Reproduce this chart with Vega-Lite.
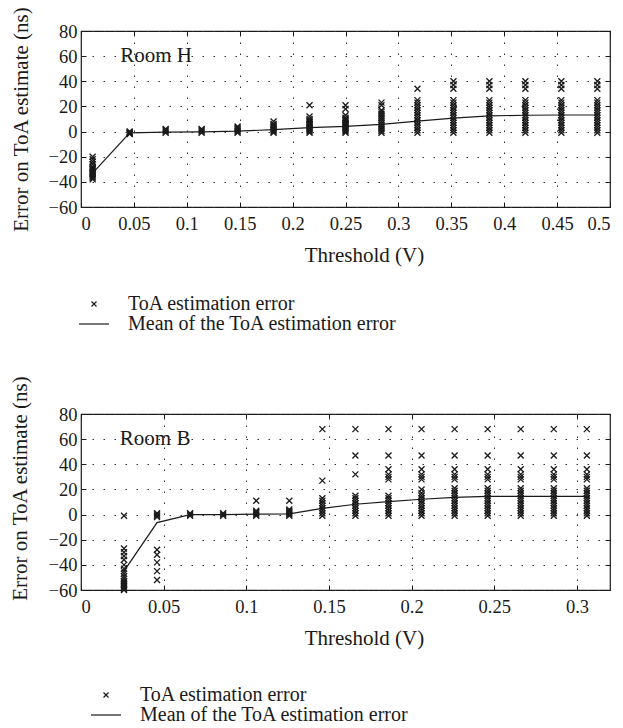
{
"$schema":"https://vega.github.io/schema/vega-lite/v6.json",
"background":"white",
"padding":{"top":5,"left":8,"right":0,"bottom":0},
"datasets":{
"hPts":[
{"t":0.011,"e":-20},{"t":0.011,"e":-22},{"t":0.011,"e":-24},{"t":0.011,"e":-26},{"t":0.011,"e":-28},{"t":0.011,"e":-29},{"t":0.011,"e":-30},{"t":0.011,"e":-31},{"t":0.011,"e":-32},{"t":0.011,"e":-33},{"t":0.011,"e":-34},{"t":0.011,"e":-35},{"t":0.011,"e":-36},{"t":0.011,"e":-37},{"t":0.011,"e":-38},
{"t":0.046,"e":-2},{"t":0.046,"e":-1.5},{"t":0.046,"e":-1},{"t":0.046,"e":-0.5},{"t":0.046,"e":0},
{"t":0.08,"e":-1},{"t":0.08,"e":0},{"t":0.08,"e":1},{"t":0.08,"e":2},
{"t":0.114,"e":-1},{"t":0.114,"e":0},{"t":0.114,"e":1},{"t":0.114,"e":2},
{"t":0.148,"e":-1},{"t":0.148,"e":0},{"t":0.148,"e":1},{"t":0.148,"e":2},{"t":0.148,"e":3},{"t":0.148,"e":4},
{"t":0.182,"e":-1},{"t":0.182,"e":0},{"t":0.182,"e":1},{"t":0.182,"e":2},{"t":0.182,"e":3},{"t":0.182,"e":4},{"t":0.182,"e":5},{"t":0.182,"e":6},{"t":0.182,"e":8},
{"t":0.216,"e":-1},{"t":0.216,"e":0},{"t":0.216,"e":1},{"t":0.216,"e":2},{"t":0.216,"e":3},{"t":0.216,"e":4},{"t":0.216,"e":5},{"t":0.216,"e":6},{"t":0.216,"e":7},{"t":0.216,"e":8},{"t":0.216,"e":9},{"t":0.216,"e":10},{"t":0.216,"e":12},{"t":0.216,"e":21},
{"t":0.25,"e":-1},{"t":0.25,"e":0},{"t":0.25,"e":1},{"t":0.25,"e":2},{"t":0.25,"e":3},{"t":0.25,"e":4},{"t":0.25,"e":5},{"t":0.25,"e":6},{"t":0.25,"e":7},{"t":0.25,"e":8},{"t":0.25,"e":9},{"t":0.25,"e":10},{"t":0.25,"e":11},{"t":0.25,"e":13},{"t":0.25,"e":18},{"t":0.25,"e":21},
{"t":0.284,"e":-1},{"t":0.284,"e":0.5},{"t":0.284,"e":2},{"t":0.284,"e":3.5},{"t":0.284,"e":5},{"t":0.284,"e":6.5},{"t":0.284,"e":8},{"t":0.284,"e":9.5},{"t":0.284,"e":11},{"t":0.284,"e":12.5},{"t":0.284,"e":14},{"t":0.284,"e":15.5},{"t":0.284,"e":17},{"t":0.284,"e":21},{"t":0.284,"e":23},
{"t":0.318,"e":-1},{"t":0.318,"e":1},{"t":0.318,"e":3},{"t":0.318,"e":5},{"t":0.318,"e":7},{"t":0.318,"e":9},{"t":0.318,"e":11},{"t":0.318,"e":13},{"t":0.318,"e":15},{"t":0.318,"e":17},{"t":0.318,"e":19},{"t":0.318,"e":21},{"t":0.318,"e":23},{"t":0.318,"e":25},{"t":0.318,"e":34},
{"t":0.352,"e":-1},{"t":0.352,"e":1},{"t":0.352,"e":3},{"t":0.352,"e":5},{"t":0.352,"e":7},{"t":0.352,"e":9},{"t":0.352,"e":11},{"t":0.352,"e":13},{"t":0.352,"e":15},{"t":0.352,"e":17},{"t":0.352,"e":19},{"t":0.352,"e":21},{"t":0.352,"e":23},{"t":0.352,"e":25},{"t":0.352,"e":34},{"t":0.352,"e":37},{"t":0.352,"e":40},
{"t":0.386,"e":-1},{"t":0.386,"e":1},{"t":0.386,"e":3},{"t":0.386,"e":5},{"t":0.386,"e":7},{"t":0.386,"e":9},{"t":0.386,"e":11},{"t":0.386,"e":13},{"t":0.386,"e":15},{"t":0.386,"e":17},{"t":0.386,"e":19},{"t":0.386,"e":21},{"t":0.386,"e":23},{"t":0.386,"e":25},{"t":0.386,"e":34},{"t":0.386,"e":37},{"t":0.386,"e":40},
{"t":0.42,"e":-1},{"t":0.42,"e":1},{"t":0.42,"e":3},{"t":0.42,"e":5},{"t":0.42,"e":7},{"t":0.42,"e":9},{"t":0.42,"e":11},{"t":0.42,"e":13},{"t":0.42,"e":15},{"t":0.42,"e":17},{"t":0.42,"e":19},{"t":0.42,"e":21},{"t":0.42,"e":23},{"t":0.42,"e":25},{"t":0.42,"e":34},{"t":0.42,"e":37},{"t":0.42,"e":40},
{"t":0.454,"e":-1},{"t":0.454,"e":1},{"t":0.454,"e":3},{"t":0.454,"e":5},{"t":0.454,"e":7},{"t":0.454,"e":9},{"t":0.454,"e":11},{"t":0.454,"e":13},{"t":0.454,"e":15},{"t":0.454,"e":17},{"t":0.454,"e":19},{"t":0.454,"e":21},{"t":0.454,"e":23},{"t":0.454,"e":25},{"t":0.454,"e":34},{"t":0.454,"e":37},{"t":0.454,"e":40},
{"t":0.488,"e":-1},{"t":0.488,"e":1},{"t":0.488,"e":3},{"t":0.488,"e":5},{"t":0.488,"e":7},{"t":0.488,"e":9},{"t":0.488,"e":11},{"t":0.488,"e":13},{"t":0.488,"e":15},{"t":0.488,"e":17},{"t":0.488,"e":19},{"t":0.488,"e":21},{"t":0.488,"e":23},{"t":0.488,"e":25},{"t":0.488,"e":34},{"t":0.488,"e":37},{"t":0.488,"e":40}
],
"hMean":[
{"t":0.011,"e":-33},{"t":0.046,"e":-1},{"t":0.08,"e":-0.5},{"t":0.114,"e":-0.2},{"t":0.148,"e":0.3},{"t":0.182,"e":1.5},{"t":0.216,"e":3.2},{"t":0.25,"e":4.1},{"t":0.284,"e":5.8},{"t":0.318,"e":8.3},{"t":0.352,"e":10.7},{"t":0.386,"e":12.5},{"t":0.42,"e":13},{"t":0.454,"e":13.2},{"t":0.488,"e":13.2}
],
"bPts":[
{"t":0.026,"e":-1},{"t":0.026,"e":-27},{"t":0.026,"e":-30},{"t":0.026,"e":-33},{"t":0.026,"e":-36},{"t":0.026,"e":-40},{"t":0.026,"e":-43},{"t":0.026,"e":-45},{"t":0.026,"e":-47},{"t":0.026,"e":-49},{"t":0.026,"e":-51},{"t":0.026,"e":-53},{"t":0.026,"e":-54},{"t":0.026,"e":-55},{"t":0.026,"e":-56},{"t":0.026,"e":-57},{"t":0.026,"e":-58},{"t":0.026,"e":-59},{"t":0.026,"e":-60},
{"t":0.046,"e":-2},{"t":0.046,"e":-1},{"t":0.046,"e":0},{"t":0.046,"e":1},{"t":0.046,"e":-28},{"t":0.046,"e":-32},{"t":0.046,"e":-38},{"t":0.046,"e":-45},{"t":0.046,"e":-52},
{"t":0.066,"e":-1},{"t":0.066,"e":0},{"t":0.066,"e":1},
{"t":0.086,"e":-1},{"t":0.086,"e":0},{"t":0.086,"e":1},
{"t":0.106,"e":-1},{"t":0.106,"e":0},{"t":0.106,"e":1},{"t":0.106,"e":2},{"t":0.106,"e":3},{"t":0.106,"e":11},
{"t":0.126,"e":-1},{"t":0.126,"e":0},{"t":0.126,"e":1},{"t":0.126,"e":2},{"t":0.126,"e":3},{"t":0.126,"e":4},{"t":0.126,"e":11},
{"t":0.146,"e":-1},{"t":0.146,"e":1},{"t":0.146,"e":3},{"t":0.146,"e":5},{"t":0.146,"e":7},{"t":0.146,"e":9},{"t":0.146,"e":11},{"t":0.146,"e":13},{"t":0.146,"e":27},{"t":0.146,"e":68},
{"t":0.166,"e":-1},{"t":0.166,"e":1},{"t":0.166,"e":3},{"t":0.166,"e":5},{"t":0.166,"e":7},{"t":0.166,"e":9},{"t":0.166,"e":11},{"t":0.166,"e":13},{"t":0.166,"e":15},{"t":0.166,"e":32},{"t":0.166,"e":47},{"t":0.166,"e":68},
{"t":0.186,"e":-1},{"t":0.186,"e":1},{"t":0.186,"e":3},{"t":0.186,"e":5},{"t":0.186,"e":7},{"t":0.186,"e":9},{"t":0.186,"e":11},{"t":0.186,"e":13},{"t":0.186,"e":15},{"t":0.186,"e":28},{"t":0.186,"e":30},{"t":0.186,"e":32},{"t":0.186,"e":36},{"t":0.186,"e":47},{"t":0.186,"e":68},
{"t":0.206,"e":-1},{"t":0.206,"e":1},{"t":0.206,"e":3},{"t":0.206,"e":5},{"t":0.206,"e":7},{"t":0.206,"e":9},{"t":0.206,"e":11},{"t":0.206,"e":13},{"t":0.206,"e":15},{"t":0.206,"e":17},{"t":0.206,"e":20},{"t":0.206,"e":28},{"t":0.206,"e":30},{"t":0.206,"e":32},{"t":0.206,"e":36},{"t":0.206,"e":47},{"t":0.206,"e":68},
{"t":0.226,"e":-1},{"t":0.226,"e":1},{"t":0.226,"e":3},{"t":0.226,"e":5},{"t":0.226,"e":7},{"t":0.226,"e":9},{"t":0.226,"e":11},{"t":0.226,"e":13},{"t":0.226,"e":15},{"t":0.226,"e":17},{"t":0.226,"e":19},{"t":0.226,"e":21},{"t":0.226,"e":28},{"t":0.226,"e":30},{"t":0.226,"e":32},{"t":0.226,"e":36},{"t":0.226,"e":47},{"t":0.226,"e":68},
{"t":0.246,"e":-1},{"t":0.246,"e":1},{"t":0.246,"e":3},{"t":0.246,"e":5},{"t":0.246,"e":7},{"t":0.246,"e":9},{"t":0.246,"e":11},{"t":0.246,"e":13},{"t":0.246,"e":15},{"t":0.246,"e":17},{"t":0.246,"e":19},{"t":0.246,"e":21},{"t":0.246,"e":28},{"t":0.246,"e":30},{"t":0.246,"e":32},{"t":0.246,"e":36},{"t":0.246,"e":47},{"t":0.246,"e":68},
{"t":0.266,"e":-1},{"t":0.266,"e":1},{"t":0.266,"e":3},{"t":0.266,"e":5},{"t":0.266,"e":7},{"t":0.266,"e":9},{"t":0.266,"e":11},{"t":0.266,"e":13},{"t":0.266,"e":15},{"t":0.266,"e":17},{"t":0.266,"e":19},{"t":0.266,"e":21},{"t":0.266,"e":28},{"t":0.266,"e":30},{"t":0.266,"e":32},{"t":0.266,"e":36},{"t":0.266,"e":47},{"t":0.266,"e":68},
{"t":0.286,"e":-1},{"t":0.286,"e":1},{"t":0.286,"e":3},{"t":0.286,"e":5},{"t":0.286,"e":7},{"t":0.286,"e":9},{"t":0.286,"e":11},{"t":0.286,"e":13},{"t":0.286,"e":15},{"t":0.286,"e":17},{"t":0.286,"e":19},{"t":0.286,"e":21},{"t":0.286,"e":28},{"t":0.286,"e":30},{"t":0.286,"e":32},{"t":0.286,"e":36},{"t":0.286,"e":47},{"t":0.286,"e":68},
{"t":0.306,"e":-1},{"t":0.306,"e":1},{"t":0.306,"e":3},{"t":0.306,"e":5},{"t":0.306,"e":7},{"t":0.306,"e":9},{"t":0.306,"e":11},{"t":0.306,"e":13},{"t":0.306,"e":15},{"t":0.306,"e":17},{"t":0.306,"e":19},{"t":0.306,"e":21},{"t":0.306,"e":28},{"t":0.306,"e":30},{"t":0.306,"e":32},{"t":0.306,"e":36},{"t":0.306,"e":47},{"t":0.306,"e":68}
],
"bMean":[
{"t":0.026,"e":-45},{"t":0.046,"e":-6.4},{"t":0.066,"e":0},{"t":0.086,"e":0},{"t":0.106,"e":0.3},{"t":0.126,"e":0.6},{"t":0.146,"e":5},{"t":0.166,"e":8.2},{"t":0.186,"e":10.3},{"t":0.206,"e":12.2},{"t":0.226,"e":13.7},{"t":0.246,"e":14.5},{"t":0.266,"e":14.5},{"t":0.286,"e":14.5},{"t":0.306,"e":14.5}
]
},
"concat":[
{
"width":529,"height":176,
"resolve":{"axis":{"x":"independent","y":"independent"}},
"layer":[
{"data":{"name":"hPts"},
"mark":{"type":"point","filled":false,"size":36,"strokeWidth":1.3,"color":"#1a1a1a","opacity":1},
"encoding":{
"x":{"field":"t","type":"quantitative","scale":{"domain":[0,0.5],"nice":false,"zero":false},"axis":{"orient":"bottom","values":[0,0.05,0.1,0.15,0.2,0.25,0.3,0.35,0.4,0.45,0.5],"format":"~g","title":"Threshold (V)","titleX":283}},
"y":{"field":"e","type":"quantitative","scale":{"domain":[-60,80],"nice":false,"zero":false},"axis":{"orient":"left","values":[-60,-40,-20,0,20,40,60,80],"title":"Error on ToA estimate (ns)","titlePadding":17}},
"shape":{"datum":"ToA estimation error","scale":{"domain":["ToA estimation error","Mean of the ToA estimation error"],"range":["M-1,-1L1,1M-1,1L1,-1","M-6,0L6,0"]},
"legend":{"orient":"none","legendX":3,"legendY":263,"title":null}}
}},
{"data":{"name":"hMean"},
"mark":{"type":"line","color":"#1a1a1a","strokeWidth":1.2},
"encoding":{
"x":{"field":"t","type":"quantitative","scale":{"domain":[0,0.5],"nice":false,"zero":false},"axis":{"orient":"top","labels":false,"title":null,"grid":false,"values":[0,0.05,0.1,0.15,0.2,0.25,0.3,0.35,0.4,0.45,0.5]}},
"y":{"field":"e","type":"quantitative","scale":{"domain":[-60,80],"nice":false,"zero":false},"axis":{"orient":"right","labels":false,"title":null,"grid":false,"values":[-60,-40,-20,0,20,40,60,80]}}
}},
{"data":{"values":[{"t":0.037,"e":60,"label":"Room H"}]},
"mark":{"type":"text","align":"left","baseline":"middle","font":"Liberation Serif","fontSize":21,"color":"#1a1a1a"},
"encoding":{"x":{"field":"t","type":"quantitative","axis":null},"y":{"field":"e","type":"quantitative","axis":null},"text":{"field":"label"}}}
]
},
{
"width":529,"height":176,
"resolve":{"axis":{"x":"independent","y":"independent"}},
"layer":[
{"data":{"name":"bPts"},
"mark":{"type":"point","filled":false,"size":36,"strokeWidth":1.3,"color":"#1a1a1a","opacity":1},
"encoding":{
"x":{"field":"t","type":"quantitative","scale":{"domain":[0,0.32],"nice":false,"zero":false},"axis":{"orient":"bottom","values":[0,0.05,0.1,0.15,0.2,0.25,0.3],"format":"~g","title":"Threshold (V)","titleX":283}},
"y":{"field":"e","type":"quantitative","scale":{"domain":[-60,80],"nice":false,"zero":false},"axis":{"orient":"left","values":[-60,-40,-20,0,20,40,60,80],"title":"Error on ToA estimate (ns)","titlePadding":18,"titleY":74}},
"shape":{"datum":"ToA estimation error","scale":{"domain":["ToA estimation error","Mean of the ToA estimation error"],"range":["M-1,-1L1,1M-1,1L1,-1","M-6,0L6,0"]},
"legend":{"orient":"none","legendX":15,"legendY":271,"title":null}}
}},
{"data":{"name":"bMean"},
"mark":{"type":"line","color":"#1a1a1a","strokeWidth":1.2},
"encoding":{
"x":{"field":"t","type":"quantitative","scale":{"domain":[0,0.32],"nice":false,"zero":false},"axis":{"orient":"top","labels":false,"title":null,"grid":false,"values":[0,0.05,0.1,0.15,0.2,0.25,0.3]}},
"y":{"field":"e","type":"quantitative","scale":{"domain":[-60,80],"nice":false,"zero":false},"axis":{"orient":"right","labels":false,"title":null,"grid":false,"values":[-60,-40,-20,0,20,40,60,80]}}
}},
{"data":{"values":[{"t":0.0235,"e":60,"label":"Room B"}]},
"mark":{"type":"text","align":"left","baseline":"middle","font":"Liberation Serif","fontSize":21,"color":"#1a1a1a"},
"encoding":{"x":{"field":"t","type":"quantitative","axis":null},"y":{"field":"e","type":"quantitative","axis":null},"text":{"field":"label"}}}
]
}
],
"columns":1,
"align":"none",
"center":true,
"spacing":39,
"resolve":{"scale":{"shape":"independent"},"legend":{"shape":"independent"}},
"config":{
"font":"Liberation Serif",
"view":{"stroke":"#1a1a1a","strokeWidth":1.2},
"axis":{"labelFont":"Liberation Serif","labelFontSize":18.5,"labelColor":"#1a1a1a","titleFont":"Liberation Serif","titleFontSize":21,"titleFontWeight":"normal","titleColor":"#1a1a1a","tickColor":"#1a1a1a","tickSize":-5,"tickWidth":1,"domain":false,"grid":true,"gridDash":[1.5,9.5],"gridColor":"#333","gridWidth":1},
"axisX":{"labelPadding":12,"titlePadding":12},
"axisY":{"labelPadding":9},
"legend":{"symbolSize":25,"symbolStrokeColor":"#1a1a1a","symbolStrokeWidth":1.2,"symbolFillColor":"transparent","labelFont":"Liberation Serif","labelFontSize":20,"labelColor":"#1a1a1a","labelOffset":24,"rowPadding":0,"labelLimit":400}
}
}
